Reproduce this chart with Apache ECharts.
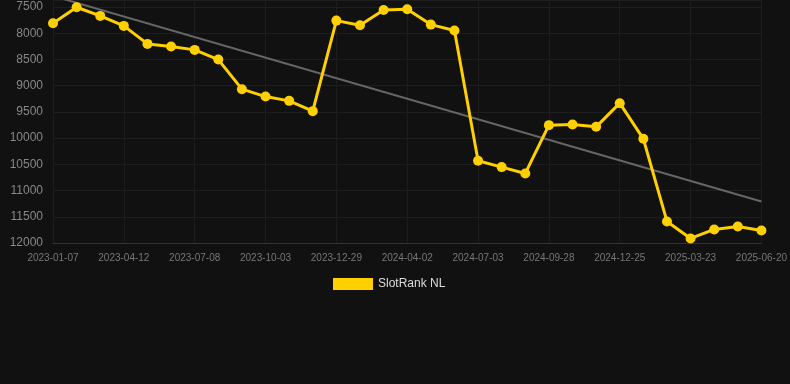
<!DOCTYPE html>
<html>
<head>
<meta charset="utf-8">
<script src="https://cdn.jsdelivr.net/npm/echarts@6/dist/echarts.min.js"></script>
<style>
html, body { margin: 0; padding: 0; background: #111111; }
#chart { width: 790px; height: 384px; }
</style>
</head>
<body>
<div id="chart"></div>
<script>
var dates = ['2023-01-07', '2023-02-08', '2023-03-11', '2023-04-12', '2023-05-12', '2023-06-09',
	'2023-07-08', '2023-08-06', '2023-09-04', '2023-10-03', '2023-11-01', '2023-11-30',
	'2023-12-29', '2024-01-31', '2024-03-01', '2024-04-02', '2024-05-03', '2024-06-02',
	'2024-07-03', '2024-08-01', '2024-08-30', '2024-09-28', '2024-10-27', '2024-11-26',
	'2024-12-25', '2025-01-22', '2025-02-21', '2025-03-23', '2025-04-22', '2025-05-21',
	'2025-06-20'];
var ranks = [7810, 7505, 7670, 7861, 8204, 8255, 8318, 8503, 9067, 9208, 9290, 9486,
	7760, 7848, 7556, 7543, 7836, 7950, 10433, 10553, 10674, 9753, 9741, 9785,
	9334, 10014, 11589, 11913, 11741, 11684, 11760];
// trend line ends only
var trendStart = 7290;
var trendEnd = 11208;
var trend = dates.map(function (d, i) {
	if (i === 0) return trendStart;
	if (i === dates.length - 1) return trendEnd;
	return null;
});

var chart = echarts.init(document.getElementById('chart'));
var option = {
	backgroundColor: '#111111',
	animation: false,
	grid: {
		left: 53,
		right: 28,
		top: 0,
		bottom: 141
	},
	legend: {
		data: ['SlotRank NL'],
		top: 273,
		left: 328,
		itemWidth: 40,
		itemHeight: 12,
		icon: 'rect',
		textStyle: { color: '#dddddd', fontSize: 12, fontFamily: 'Liberation Sans, Arial, sans-serif' }
	},
	xAxis: {
		type: 'category',
		boundaryGap: false,
		data: dates,
		axisLine: { lineStyle: { color: '#333333' } },
		axisTick: { show: false },
		axisLabel: {
			interval: 2,
			color: '#777777',
			fontSize: 10,
			margin: 10,
			fontFamily: 'Liberation Sans, Arial, sans-serif'
		},
		splitLine: { show: true, interval: 2, lineStyle: { color: '#1c1c1c' } }
	},
	yAxis: {
		type: 'value',
		inverse: true,
		min: 7367,
		max: 12000,
		splitNumber: 9,
		minInterval: 500,
		maxInterval: 500,
		axisLine: { show: false },
		axisTick: { show: false },
		axisLabel: {
			showMinLabel: false,
			color: '#888888',
			fontSize: 12,
			margin: 10,
			fontFamily: 'Liberation Sans, Arial, sans-serif',
			formatter: function (v) { return String(v); }
		},
		splitLine: { lineStyle: { color: '#1e1e1e' } }
	},
	series: [{
		name: 'SlotRank NL',
		type: 'line',
		data: ranks,
		color: '#FFD000',
		lineStyle: { width: 3, color: '#FFD000' },
		symbol: 'circle',
		symbolSize: 10,
		itemStyle: { color: '#FFD000' },
		z: 3
	}, {
		name: 'trend',
		type: 'line',
		data: trend,
		connectNulls: true,
		symbol: 'none',
		lineStyle: { width: 2, color: '#666666' },
		z: 2
	}]
};
chart.setOption(option);
</script>
</body>
</html>
